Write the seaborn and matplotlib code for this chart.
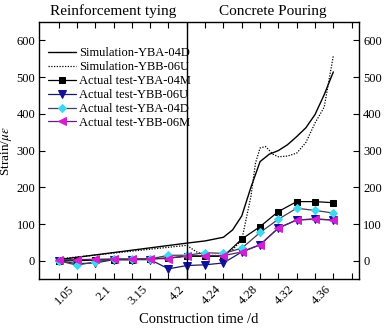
import numpy as np
import pandas as pd
import matplotlib
matplotlib.use("Agg")
import matplotlib.pyplot as plt
import seaborn as sns

# ---- data ----
idx = list(range(16))
tick_labels = ["", "1.05", "", "2.1", "", "3.15", "", "4.2", "", "4.24", "", "4.28", "", "4.32", "", "4.36", ""]

sim_04d_x = [0, 7, 8, 9, 9.5, 10, 10.5, 11, 11.5, 12, 12.5, 13, 13.5, 14, 14.5, 15]
sim_04d_y = [3, 48, 54, 64, 84, 122, 200, 270, 290, 300, 316, 338, 362, 398, 452, 514]

sim_06u_x = [0, 7, 7.5, 8, 9, 9.5, 10, 10.5, 10.75, 11, 11.3, 11.7, 12, 12.5, 13, 13.5, 14, 14.5, 15]
sim_06u_y = [5, 42, 25, 15, 14, 30, 57, 175, 266, 307, 311, 290, 283, 285, 293, 322, 375, 418, 558]

act_04m = [0, 0, 2, 3, 3, 5, 8, 12, 12, 12, 59, 93, 134, 161, 161, 158]
act_06u = [0, -8, -6, 3, 3, 3, -22, -13, -11, -6, 24, 44, 89, 111, 113, 111]
act_04d = [0, -12, -3, 4, 4, 5, 15, 15, 22, 20, 34, 77, 113, 143, 137, 130]
act_06m = [3, 3, 4, 5, 5, 5, 6, 14, 14, 14, 24, 43, 89, 111, 114, 111]

sns.set_theme(style="white")
plt.rcParams['font.family'] = ['Liberation Serif', 'DejaVu Serif']
plt.rcParams['mathtext.fontset'] = 'stix'
plt.rcParams['text.color'] = 'black'
plt.rcParams['axes.labelcolor'] = 'black'
plt.rcParams['xtick.color'] = 'black'
plt.rcParams['ytick.color'] = 'black'

fig = plt.figure(figsize=(3.86, 3.28), dpi=100)
ax = fig.add_axes([0.102, 0.149, 0.828, 0.784])

ms = 4.5
sns.lineplot(x=sim_04d_x, y=sim_04d_y, ax=ax, color="black", lw=1.0,
             label="Simulation-YBA-04D")
sns.lineplot(x=sim_06u_x, y=sim_06u_y, ax=ax, color="black", lw=0.9,
             linestyle=(0, (1, 1.2)), label="Simulation-YBB-06U")
sns.lineplot(x=idx, y=act_04m, ax=ax, color="black", lw=0.9, marker="s",
             markersize=ms, markeredgecolor="black", markerfacecolor="black",
             label="Actual test-YBA-04M")
sns.lineplot(x=idx, y=act_06u, ax=ax, color="#1a1a60", lw=0.9, marker="v",
             markersize=ms + 1, markeredgecolor="#10109a", markerfacecolor="#10109a",
             label="Actual test-YBB-06U")
sns.lineplot(x=idx, y=act_04d, ax=ax, color="#404050", lw=0.9, marker="D",
             markersize=ms, markeredgecolor="#40d8f0", markerfacecolor="#40d8f0",
             label="Actual test-YBA-04D")
sns.lineplot(x=idx, y=act_06m, ax=ax, color="#602070", lw=0.9, marker="<",
             markersize=ms + 1, markeredgecolor="#d020d0", markerfacecolor="#d020d0",
             label="Actual test-YBB-06M")

ax.axvline(7, color="black", lw=1.0)

ax.set_xlim(-1.05, 16.4)
ax.set_ylim(-50, 650)
ax.set_xticks(range(17))
ax.set_xticklabels(tick_labels, rotation=45, ha="right", fontsize=9)
ax.set_yticks([0, 100, 200, 300, 400, 500, 600])
ax.tick_params(axis="both", direction="in", length=4, width=0.8,
               top=True, right=True, labelright=True, bottom=True, left=True,
               labelsize=9, colors="black", pad=3)
for s in ax.spines.values():
    s.set_color("black")
    s.set_linewidth(1.0)

ax.set_xlabel("Construction time /d", fontsize=10.5, labelpad=4)
ax.set_ylabel("Strain/$\\mu\\varepsilon$", fontsize=9.5, labelpad=1)
ax.yaxis.set_label_coords(-0.08, 0.5)

ax.text(3.0, 660, "Reinforcement tying", ha="center", va="bottom", fontsize=11)
ax.text(11.7, 660, "Concrete Pouring", ha="center", va="bottom", fontsize=11)

leg = ax.legend(loc="upper left", bbox_to_anchor=(0.0, 0.935), frameon=False,
                fontsize=9, handlelength=2.2, labelspacing=0.15,
                handletextpad=0.3, borderaxespad=0.3)

fig.savefig("out.png", dpi=100)
